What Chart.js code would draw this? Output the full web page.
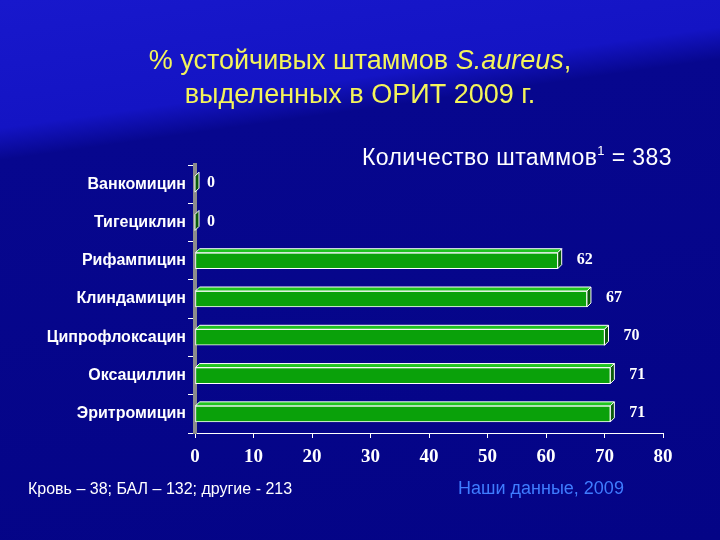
<!DOCTYPE html>
<html>
<head>
<meta charset="utf-8">
<script src="https://cdn.jsdelivr.net/npm/chart.js@4/dist/chart.umd.min.js"></script>
<style>
  html, body { margin: 0; padding: 0; }
  body {
    width: 720px; height: 540px; overflow: hidden; position: relative;
    background: linear-gradient(172deg, #1818cc 0%, #1414c4 20%, #07078e 25%, #040486 100%);
    font-family: "Liberation Sans", Arial, sans-serif;
  }
  .t { position: absolute; white-space: nowrap; }
  #title { left: 0; width: 720px; top: 43px; text-align: center; color: #f4f45a;
           font-size: 27px; line-height: 34px; }
  #count { left: 362px; top: 143px; color: #fff; font-size: 23px; letter-spacing: 0.4px; }
  #count sup { font-size: 13px; vertical-align: 10px; }
  #src { left: 28px; top: 480px; color: #fff; font-size: 16px;
         font-family: "Liberation Sans Narrow", "Liberation Sans", sans-serif; }
  #ours { left: 458px; top: 478px; color: #3f7cff; font-size: 18px;
          font-family: "Liberation Sans Narrow", "Liberation Sans", sans-serif; }
  canvas { position: absolute; left: 0; top: 0; }
</style>
</head>
<body>
<canvas id="chart" width="720" height="540"></canvas>
<div class="t" id="title">% устойчивых штаммов <i>S.aureus</i>,<br>выделенных в ОРИТ 2009 г.</div>
<div class="t" id="count">Количество штаммов<sup>1</sup> = 383</div>
<div class="t" id="src">Кровь – 38; БАЛ – 132; другие - 213</div>
<div class="t" id="ours">Наши данные, 2009</div>
<script>
const categories = ['Ванкомицин', 'Тигециклин', 'Рифампицин', 'Клиндамицин',
                    'Ципрофлоксацин', 'Оксациллин', 'Эритромицин'];
const resistant = [0, 0, 62, 67, 70, 71, 71];
const xMin = 0, xMax = 80, xStep = 10;

// 3d look: top face + end face, then the value label
const bars3d = {
  id: 'bars3d',
  afterDatasetsDraw(chart) {
    const ctx = chart.ctx;
    const meta = chart.getDatasetMeta(0);
    const d = 4;
    meta.data.forEach((bar, i) => {
      const p = bar.getProps(['x', 'y', 'base', 'height'], true);
      const top = p.y - p.height / 2, bot = p.y + p.height / 2;
      ctx.save();
      ctx.lineWidth = 1;
      ctx.strokeStyle = '#ffffff';
      // top face
      if (p.x > p.base) {
        ctx.beginPath();
        ctx.moveTo(p.base, top);
        ctx.lineTo(p.x, top);
        ctx.lineTo(p.x + d, top - d);
        ctx.lineTo(p.base + d, top - d);
        ctx.closePath();
        ctx.fillStyle = '#1fc41f';
        ctx.fill();
        ctx.stroke();
      }
      // end face
      ctx.beginPath();
      ctx.moveTo(p.x, top);
      ctx.lineTo(p.x + d, top - d);
      ctx.lineTo(p.x + d, bot - d);
      ctx.lineTo(p.x, bot);
      ctx.closePath();
      ctx.fillStyle = '#0b5a0b';
      ctx.fill();
      ctx.stroke();
      // label
      ctx.fillStyle = '#ffffff';
      ctx.font = 'bold 16px "Liberation Serif", "Times New Roman", serif';
      ctx.textAlign = 'center';
      ctx.textBaseline = 'middle';
      const off = resistant[i] > 0 ? 27 : 16;
      ctx.fillText(String(resistant[i]), p.x + off, p.y - 1);
      ctx.restore();
    });
  }
};

new Chart(document.getElementById('chart'), {
  type: 'bar',
  data: {
    labels: categories,
    datasets: [{
      data: resistant,
      backgroundColor: '#0aa10a',
      borderColor: '#ffffff',
      borderWidth: 1,
      barThickness: 16,
      borderSkipped: false
    }]
  },
  options: {
    indexAxis: 'y',
    responsive: false,
    animation: false,
    layout: { padding: { left: 0, right: 57, top: 165, bottom: 67 } },
    plugins: { legend: { display: false }, tooltip: { enabled: false } },
    scales: {
      x: {
        min: xMin, max: xMax,
        afterFit: s => { s.height = 40; },
        ticks: {
          stepSize: xStep, color: '#ffffff', padding: 8,
          font: { family: '"Liberation Serif", "Times New Roman", serif', size: 19, weight: 'bold' }
        },
        grid: { drawOnChartArea: false, color: '#ffffff', tickLength: 5 },
        border: { color: '#ffffff', width: 1 }
      },
      y: {
        afterFit: s => { s.width = 195; },
        ticks: {
          color: '#ffffff', padding: 2,
          font: { family: '"Liberation Sans", Arial, sans-serif', size: 16, weight: 'bold' }
        },
        grid: { drawOnChartArea: false, color: '#ffffff', tickLength: 7 },
        border: { color: '#8c8c8c', width: 4 }
      }
    }
  },
  plugins: [bars3d]
});
</script>
</body>
</html>
